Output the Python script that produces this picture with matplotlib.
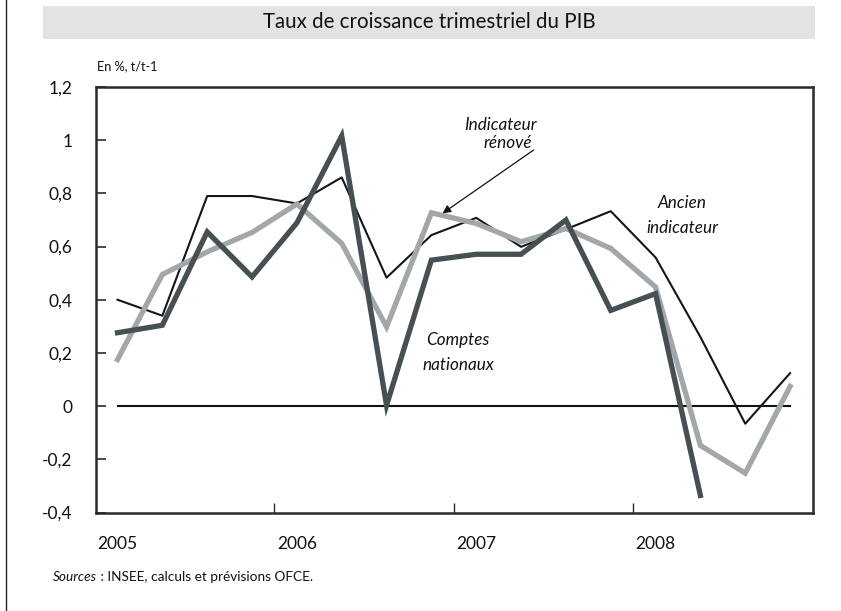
import matplotlib
matplotlib.use("Agg")
import matplotlib.pyplot as plt
from matplotlib.patches import Rectangle
from matplotlib.lines import Line2D

plt.rcParams['font.family'] = ['Lato', 'DejaVu Sans']

quarters = list(range(16))  # 2005T1 .. 2008T4
year_labels = ["2005", "2006", "2007", "2008"]
yticks = [-0.4, -0.2, 0, 0.2, 0.4, 0.6, 0.8, 1.0, 1.2]
ytick_labels = ["-0,4", "-0,2", "0", "0,2", "0,4", "0,6", "0,8", "1", "1,2"]

ancien = [0.40, 0.34, 0.79, 0.79, 0.762, 0.86, 0.483, 0.643, 0.708, 0.599,
          0.665, 0.733, 0.559, 0.26, -0.066, 0.124]
renove = [0.175, 0.495, 0.58, 0.653, 0.76, 0.612, 0.298, 0.727, 0.687, 0.618,
          0.668, 0.593, 0.448, -0.148, -0.252, 0.074]
comptes = [0.276, 0.304, 0.655, 0.486, 0.689, 1.016, 0.003, 0.549, 0.571, 0.571,
           0.70, 0.36, 0.423, -0.336]

W, H = 841, 611
fig = plt.figure(figsize=(W / 100, H / 100), dpi=100)

# left vertical rule
fig.add_artist(Line2D([5.5 / W, 5.5 / W], [0, 1], color="#222222", lw=1.0))
# title band
fig.add_artist(Rectangle((43 / W, 1 - 39 / H), (815 - 43) / W, 33 / H,
                         facecolor="#e3e3e3", edgecolor="none"))
fig.text((43 + 815) / 2 / W, 1 - 22.5 / H, "Taux de croissance trimestriel du PIB",
         ha="center", va="center", fontsize=14.8, color="#111111")

ax = fig.add_axes([96 / W, 1 - 512.5 / H, (812.5 - 96) / W, (512.5 - 87) / H])
ax.set_xlim(-0.48, 15.5)
ax.set_ylim(-0.4, 1.2)

ax.plot([0, 15], [0, 0], color="#111111", lw=1.5, zorder=1)
ax.plot(quarters, ancien, color="#151515", lw=1.5, zorder=2)
ax.plot(quarters, renove, color="#a3a7aa", lw=3.8, zorder=3, solid_joinstyle="miter")
ax.plot(quarters[:len(comptes)], comptes, color="#464f52", lw=3.8, zorder=4,
        solid_joinstyle="miter")

for s in ax.spines.values():
    s.set_color("#2a2a2a")
    s.set_linewidth(1.8)

ax.set_yticks(yticks)
ax.set_yticklabels(ytick_labels)
ax.tick_params(axis="y", direction="in", length=7, width=1.2, color="#2a2a2a",
               labelsize=12.5, pad=17, labelcolor="#111111")
ax.set_xticks([3.5, 7.5, 11.5])
ax.set_xticklabels([])
ax.tick_params(axis="x", direction="in", length=7, width=1.0, color="#2a2a2a")

for k, lab in enumerate(year_labels):
    ax.annotate(lab, xy=(4 * k, -0.4), xytext=(0, -23), textcoords="offset points",
                ha="center", va="center", fontsize=12.5, color="#111111",
                annotation_clip=False)

fs = 12.3
ax.text(8.55, 1.057, "Indicateur", ha="center", va="center", style="italic",
        fontsize=fs, color="#111111")
ax.text(8.71, 0.99, "rénové", ha="center", va="center", style="italic",
        fontsize=fs, color="#111111")
ax.annotate("", xy=(7.25, 0.725), xytext=(9.28, 0.963),
            arrowprops=dict(arrowstyle="-|>", color="#111111", lw=0.9,
                            mutation_scale=12, shrinkA=0, shrinkB=0))
ax.text(12.58, 0.765, "Ancien", ha="center", va="center", style="italic",
        fontsize=fs, color="#111111")
ax.text(12.6, 0.67, "indicateur", ha="center", va="center", style="italic",
        fontsize=fs, color="#111111")
ax.text(7.59, 0.25, "Comptes", ha="center", va="center", style="italic",
        fontsize=fs, color="#111111")
ax.text(7.6, 0.153, "nationaux", ha="center", va="center", style="italic",
        fontsize=fs, color="#111111")

fig.text(97 / W, 1 - 66 / H, "En %, t/t-1", ha="left", va="center", fontsize=9.2,
         color="#111111")

t1 = fig.text(53 / W, 1 - 577 / H, "Sources", ha="left", va="center", fontsize=9.8,
              style="italic", color="#111111")
fig.canvas.draw()
bb = t1.get_window_extent()
fig.text(bb.x1 / W, 1 - 577 / H, " : INSEE, calculs et prévisions OFCE.", ha="left",
         va="center", fontsize=9.8, color="#111111")

fig.savefig("out.png", dpi=100)
